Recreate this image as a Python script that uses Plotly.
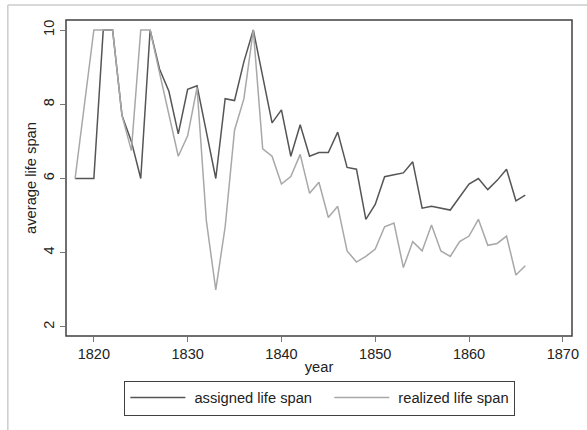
import plotly.graph_objects as go

years = list(range(1818, 1867))

assigned = [6.0, 6.0, 6.0, 10.0, 10.0, 7.7, 7.0, 6.0, 10.0, 8.95, 8.35, 7.2, 8.4, 8.5, 7.25, 6.0,
            8.15, 8.1, 9.15, 10.0, 8.75, 7.5, 7.85, 6.6, 7.45, 6.6, 6.7, 6.7, 7.25, 6.3,
            6.25, 4.9, 5.3, 6.05, 6.1, 6.15, 6.45, 5.2, 5.25, 5.2, 5.15, 5.5, 5.85, 6.0,
            5.7, 5.95, 6.25, 5.4, 5.55]

realized = [6.0, 8.0, 10.0, 10.0, 10.0, 7.7, 6.75, 10.0, 10.0, 8.85, 7.7, 6.6, 7.15, 8.45, 4.85, 3.0,
            4.7, 7.3, 8.15, 10.0, 6.8, 6.6, 5.85, 6.05, 6.65, 5.6, 5.9, 4.95, 5.25, 4.05,
            3.75, 3.9, 4.1, 4.7, 4.8, 3.6, 4.3, 4.05, 4.75, 4.05, 3.9, 4.3, 4.45, 4.9,
            4.2, 4.25, 4.45, 3.4, 3.65]

series_names = ["assigned life span", "realized life span"]
x_ticks = [1820, 1830, 1840, 1850, 1860, 1870]
y_ticks = [2, 4, 6, 8, 10]

FONT = "Liberation Sans, Arial, sans-serif"
NB = "\u00a0"

fig = go.Figure()
fig.add_trace(go.Scatter(x=years, y=assigned, mode="lines", name=NB + series_names[0] + NB * 3,
                         line=dict(color="#555555", width=1.5)))
fig.add_trace(go.Scatter(x=years, y=realized, mode="lines", name=NB + series_names[1],
                         line=dict(color="#a8a8a8", width=1.5)))

fig.update_layout(
    width=587, height=430,
    margin=dict(l=66, r=7.7, t=20, b=94.3),
    paper_bgcolor="white", plot_bgcolor="white",
    font=dict(family=FONT, size=14.5, color="#222222"),
    showlegend=True,
    legend=dict(orientation="h", x=0.5017, xanchor="center", y=-0.141, yanchor="top",
                bordercolor="#404040", borderwidth=1, itemwidth=55,
                font=dict(family=FONT, size=14.7, color="#222222"),
                tracegroupgap=0),
    xaxis=dict(range=[1817.03, 1870.98], tickvals=x_ticks, ticks="outside", ticklen=5,
               tickcolor="#777777", showgrid=False, zeroline=False, showline=False,
               tickfont=dict(size=14.5), title=dict(text="year", font=dict(size=14.7), standoff=0)),
    yaxis=dict(range=[1.757, 10.27], tickvals=y_ticks, ticks="outside", ticklen=5,
               tickcolor="#777777", showgrid=False, zeroline=False, showline=False,
               tickangle=-90, tickfont=dict(size=14.5),
               title=dict(text="average life span", font=dict(size=14.7), standoff=1)),
    shapes=[
        dict(type="rect", xref="paper", yref="paper", x0=0, x1=1, y0=0, y1=1,
             line=dict(color="#404040", width=1.5), layer="above"),
        dict(type="line", xref="paper", yref="paper", x0=-0.115, x1=-0.115, y0=1.0475, y1=-0.35,
             line=dict(color="#cccccc", width=1.5)),
        dict(type="line", xref="paper", yref="paper", x0=-0.115, x1=1.05, y0=1.0475, y1=1.0475,
             line=dict(color="#cccccc", width=1.5)),
    ],
)

fig.write_html("out.html", config={"displayModeBar": False},
               post_script="document.body.style.margin='0';")
